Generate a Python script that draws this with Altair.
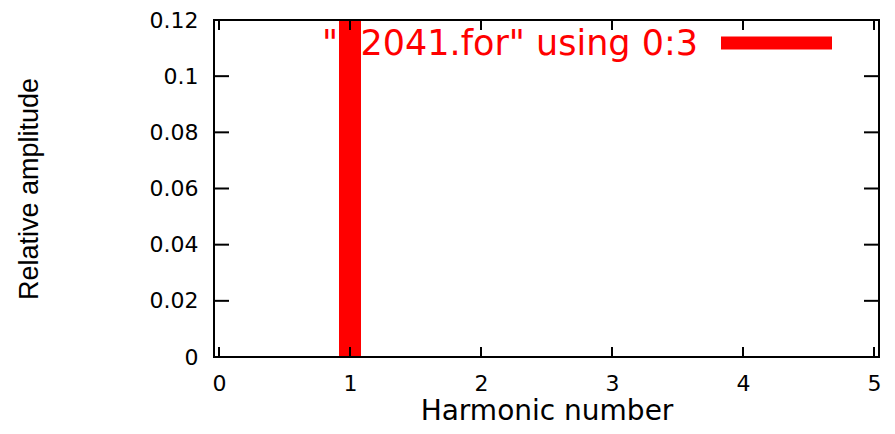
import altair as alt
import pandas as pd

harmonic = [1]
amplitude = [1.0]
x_ticks = [0, 1, 2, 3, 4, 5]
y_ticks = [0, 0.02, 0.04, 0.06, 0.08, 0.1, 0.12]
legend_label = ['"22041.for" using 0:3']

RED = "#ff0000"
FRAME = "#000000"
W, H = 665, 337

bars = pd.DataFrame({"h": harmonic, "a": amplitude})
xt = pd.DataFrame({"v": x_ticks})
yt = pd.DataFrame({"v": y_ticks})
leg = pd.DataFrame({"t": legend_label})

xscale = alt.Scale(domain=[0, 5], nice=False, zero=False)
yscale = alt.Scale(domain=[0, 0.12], nice=False)

leg_text = alt.Chart(leg).mark_text(
    color=RED, font="DejaVu Sans", fontSize=35, align="right", baseline="middle").encode(
    text="t:N", x=alt.value(484), y=alt.value(24))

bar = alt.Chart(bars).mark_bar(color=RED, size=22, clip=True).encode(
    x=alt.X("h:Q", scale=xscale,
            axis=alt.Axis(values=x_ticks, format="d", title="Harmonic number", tickSize=0,
                          labelFont="DejaVu Sans", labelFontSize=22, labelColor="#000",
                          labelPadding=16, titleFont="DejaVu Sans", titleFontSize=28,
                          titleFontWeight="normal", titleColor="#000",
                          titleBaseline="alphabetic", titleY=62,
                          domain=False, grid=False, labelFlush=False)),
    y=alt.Y("a:Q", scale=yscale,
            axis=alt.Axis(values=y_ticks, format="~g", title="Relative amplitude", tickSize=0,
                          labelFont="DejaVu Sans", labelFontSize=22, labelColor="#000",
                          labelPadding=16, titleFont="Liberation Sans", titleFontSize=27,
                          titleFontWeight="normal", titleColor="#000", titlePadding=106,
                          domain=False, grid=False, labelFlush=False)),
)

frame = alt.Chart(leg).mark_rect(fill="transparent", stroke=FRAME, strokeWidth=2).encode(
    x=alt.value(0), x2=alt.value(W), y=alt.value(0), y2=alt.value(H))

xt_bottom = alt.Chart(xt).mark_rule(color=FRAME, strokeWidth=2).encode(
    x=alt.X("v:Q", scale=xscale), y=alt.value(H), y2=alt.value(H - 10))
xt_top = alt.Chart(xt).mark_rule(color=FRAME, strokeWidth=2).encode(
    x=alt.X("v:Q", scale=xscale), y=alt.value(0), y2=alt.value(10))
yt_left = alt.Chart(yt).mark_rule(color=FRAME, strokeWidth=2).encode(
    y=alt.Y("v:Q", scale=yscale), x=alt.value(0), x2=alt.value(15))
yt_right = alt.Chart(yt).mark_rule(color=FRAME, strokeWidth=2).encode(
    y=alt.Y("v:Q", scale=yscale), x=alt.value(W), x2=alt.value(W - 15))

leg_line = alt.Chart(leg).mark_rule(color=RED, strokeWidth=13).encode(
    x=alt.value(507), x2=alt.value(618), y=alt.value(23))

chart = alt.layer(leg_text, bar, frame, xt_bottom, xt_top, yt_left, yt_right, leg_line).properties(
    width=W, height=H,
    autosize=alt.AutoSizeParams(type="none"),
    padding={"left": 206, "top": 12, "right": 8, "bottom": 69},
).configure_view(strokeWidth=0, stroke="transparent").configure(background="#ffffff")

chart.save("out.html", embed_options={"renderer": "svg", "actions": False})
